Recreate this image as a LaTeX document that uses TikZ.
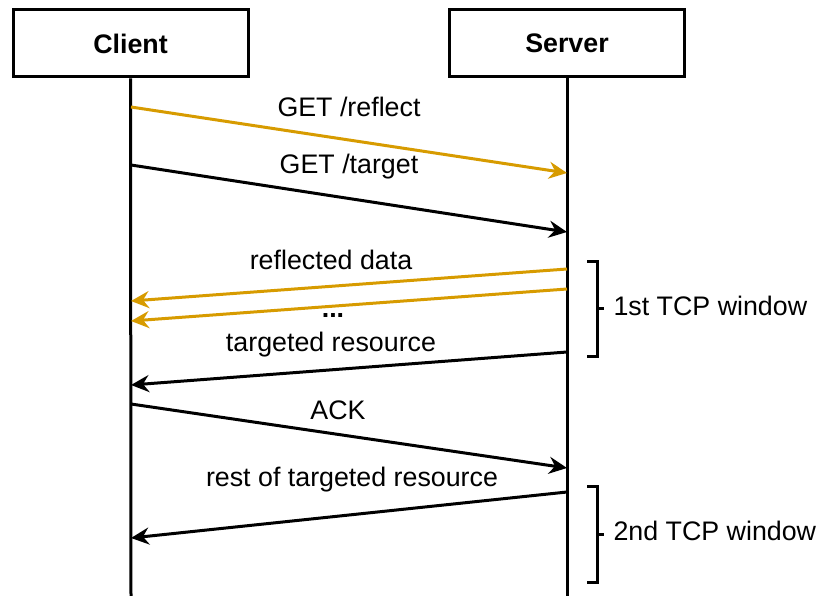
\documentclass[tikz,border=0pt]{standalone}
\usepackage{fontspec}
\setmainfont{Liberation Sans}
\usetikzlibrary{arrows.meta}
\definecolor{reflcol}{RGB}{215,155,0}

\begin{document}
\begin{tikzpicture}[x=1pt, y=-1pt,
            every node/.style = {font=\fontsize{26.8}{30}\selectfont},
            party/.style = {draw, line width=3pt, minimum width=235pt,
                    minimum height=67pt, inner sep=0pt, font=\fontsize{26.8}{30}\selectfont\bfseries},
            life/.style = {line width=3pt},
            msg/.style = {line width=3pt, -{Stealth[length=18pt,width=17pt,inset=6pt]}},
            refl/.style = {msg, draw=reflcol},
            window/.style = {line width=3pt}]
        \useasboundingbox (0,0) rectangle (818,596);
        % parties
        \node[party] (client) at (130.5,43.5) {Client};
        \node[party] (server) at (567,43.5) {Server};
        \coordinate (clientend) at (131,596);
        \coordinate (serverend) at (567,596);
        \draw[life] (client.south) -- (clientend);
        \draw[life] (server.south) -- (serverend);
        % message end points
        \foreach \n/\y in {1/107, 2/165, 3/301, 4/321, 5/385, 6/404, 7/538}
            \coordinate (c\n) at (131,\y);
        \foreach \n/\y in {1/173, 2/232, 3/269, 4/289, 5/352, 6/468, 7/492}
            \coordinate (s\n) at (567,\y);
        % messages
        \draw[refl] (c1) -- (s1);
        \draw[msg] (c2) -- (s2);
        \draw[refl] (s3) -- (c3);
        \draw[refl] (s4) -- (c4);
        \draw[msg] (s5) -- (c5);
        \draw[msg] (c6) -- (s6);
        \draw[msg] (s7) -- (c7);
        \node (reflect) at (349,107) {GET /reflect};
        \node (target) at (349,167) {GET /target};
        \node (refldata) at (331,260) {reflected data};
        \node[font=\fontsize{26.8}{30}\selectfont\bfseries] (dots) at (333,316) {...};
        \node (resource) at (331,344.5) {targeted resource};
        \node (ack) at (338,410) {ACK};
        \node (rest) at (352,479.5) {rest of targeted resource};
        % tcp windows
        \draw[window] (587,261) -- (597,261) -- (597,356) -- (587,356);
        \draw[window] (597,308) -- (604,308);
        \node[anchor=west] (win1) at (610,306) {1st TCP window};
        \draw[window] (587,486) -- (597,486) -- (597,582) -- (587,582);
        \draw[window] (597,534) -- (604,534);
        \node[anchor=west] (win2) at (610,531) {2nd TCP window};
    \end{tikzpicture}
\end{document}
